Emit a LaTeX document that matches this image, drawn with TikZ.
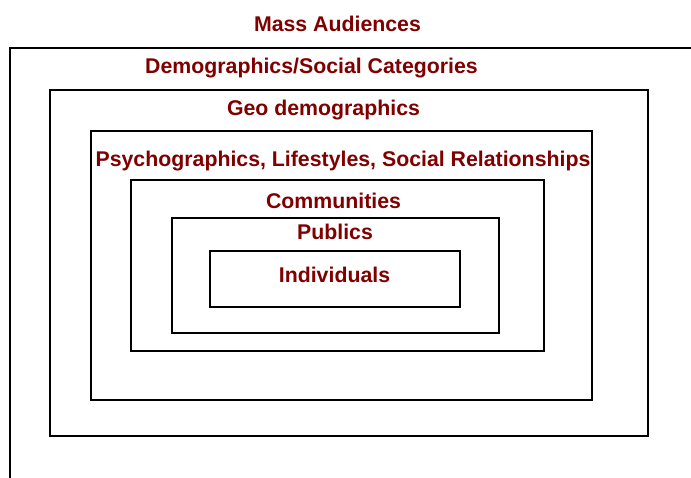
\documentclass[tikz,border=0pt]{standalone}
\usepackage{fontspec}
\setmainfont{Liberation Sans}
\definecolor{labelred}{RGB}{128,0,0}
\begin{document}
\begin{tikzpicture}[x=1pt,y=-1pt,
  frame/.style={draw=black,line width=2pt},
  tier/.style={anchor=base,inner sep=0pt,text=labelred,font=\fontsize{21.3}{24}\selectfont\bfseries}]
\useasboundingbox (0,0) rectangle (691,477);
% outermost frame runs off the page on the right and bottom
\begin{scope}
  \clip (0,0) rectangle (691,477);
  \draw[frame] (10,48) rectangle (720,520);
\end{scope}
% nested frames
\draw[frame] (50,89.5) rectangle (647.5,435.5);
\draw[frame] (90.5,130.5) rectangle (591.5,400);
\draw[frame] (130.5,179.5) rectangle (543.5,351);
\draw[frame] (171.5,218) rectangle (498.5,332.5);
\draw[frame] (210,250.5) rectangle (459.5,307);
% tier labels
\node[tier] (mass) at (337.5,31.5) {Mass Audiences};
\node[tier] (demo) at (311.5,73) {Demographics/Social Categories};
\node[tier] (geo) at (323.5,115) {Geo demographics};
\node[tier] (psycho) at (343,166.5) {Psychographics, Lifestyles, Social Relationships};
\node[tier] (comm) at (333.5,208) {Communities};
\node[tier] (pub) at (335,239) {Publics};
\node[tier] (ind) at (334.5,282) {Individuals};
\end{tikzpicture}
\end{document}
